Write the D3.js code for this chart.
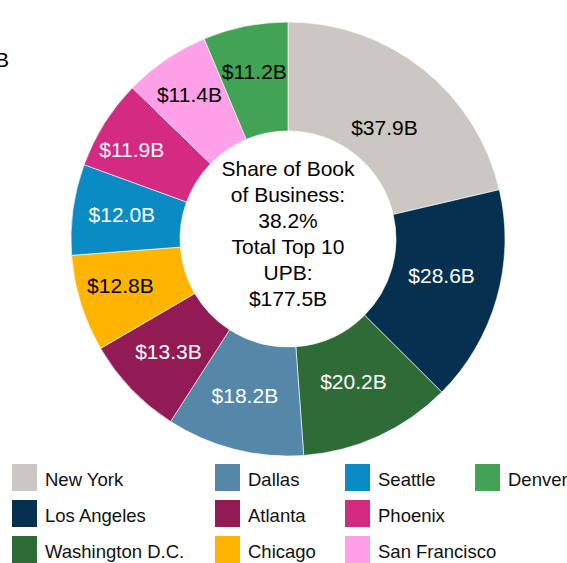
<!DOCTYPE html>
<html>
<head>
<meta charset="utf-8">
<script src="https://cdn.jsdelivr.net/npm/d3@7/dist/d3.min.js"></script>
<style>
  html, body { margin: 0; padding: 0; background: #fff; }
  svg { display: block; font-family: "Liberation Sans", Arial, sans-serif; }
</style>
</head>
<body>
<svg id="chart" width="567" height="563"></svg>
<script>
// Top 10 metros by unpaid principal balance ($B)
const metros = ["New York", "Los Angeles", "Washington D.C.", "Dallas", "Atlanta",
                "Chicago", "Seattle", "Phoenix", "San Francisco", "Denver"];
const upb = [37.9, 28.6, 20.2, 18.2, 13.3, 12.8, 12.0, 11.9, 11.4, 11.2];
const colors = ["#cbc8c4", "#06304f", "#2e6b37", "#5588a8", "#921a55",
                "#ffb400", "#0b8bc4", "#d52a82", "#ffa0e8", "#43a355"];
const labelColors = ["#000", "#fff", "#fff", "#fff", "#fff",
                     "#000", "#fff", "#fff", "#000", "#000"];
const centerLines = ["Share of Book", "of Business:", "38.2%", "Total Top 10", "UPB:", "$177.5B"];

const svg = d3.select("#chart");
const cx = 288, cy = 239, outerR = 217, innerR = 108;
// distance of each value label from the centre (small slices sit further out)
const labelRadius = [147, 158, 157, 162, 164, 174, 168, 180, 175, 171];
const labelTurn = [0.045, -0.04, 0, 0.02, 0.01, 0.03, 0.01, -0.04, 0, 0];

const data = metros.map((m, i) => ({ name: m, value: upb[i], color: colors[i], lc: labelColors[i], i }));

const pie = d3.pie().sort(null).value(d => d.value);
const arc = d3.arc().innerRadius(innerR).outerRadius(outerR);

const g = svg.append("g").attr("transform", `translate(${cx},${cy})`);
const arcs = pie(data);

g.selectAll("path.slice").data(arcs).join("path")
  .attr("class", "slice")
  .attr("d", arc)
  .attr("fill", d => d.data.color)
  .attr("stroke", "#fff")
  .attr("stroke-width", 0.6);

g.selectAll("text.val").data(arcs).join("text")
  .attr("class", "val")
  .attr("transform", d => {
    const a = (d.startAngle + d.endAngle) / 2 + labelTurn[d.data.i];
    const r = labelRadius[d.data.i];
    return `translate(${r * Math.sin(a)},${-r * Math.cos(a)})`;
  })
  .attr("text-anchor", "middle")
  .attr("dy", "0.35em")
  .attr("font-size", 21)
  .attr("fill", d => d.data.lc)
  .text(d => `$${d.data.value.toFixed(1)}B`);

// Center summary text
const lineH = 26;
g.append("text")
  .attr("text-anchor", "middle")
  .attr("font-size", 21)
  .attr("fill", "#000")
  .selectAll("tspan").data(centerLines).join("tspan")
  .attr("x", 0)
  .attr("y", (d, i) => -63 + i * lineH)
  .text(d => d);

// Partially visible heading at the left edge
svg.append("text")
  .attr("x", 9).attr("y", 67)
  .attr("text-anchor", "end")
  .attr("font-size", 21)
  .text("$177.5B");

// Legend
const colX = [12, 215, 345, 475];
const rowY = [464, 500, 536];
const leg = svg.append("g");
[[0, 1, 2], [3, 4, 5], [6, 7, 8], [9]].forEach((col, ci) => {
  col.forEach((idx, ri) => {
    const item = leg.append("g").attr("transform", `translate(${colX[ci]},${rowY[ri]})`);
    item.append("rect").attr("width", 25).attr("height", 27).attr("fill", colors[idx]);
    item.append("text").attr("x", 33).attr("y", 16).attr("dy", "0.35em")
      .attr("font-size", 18.5).attr("fill", "#111").text(metros[idx]);
  });
});
</script>
</body>
</html>
